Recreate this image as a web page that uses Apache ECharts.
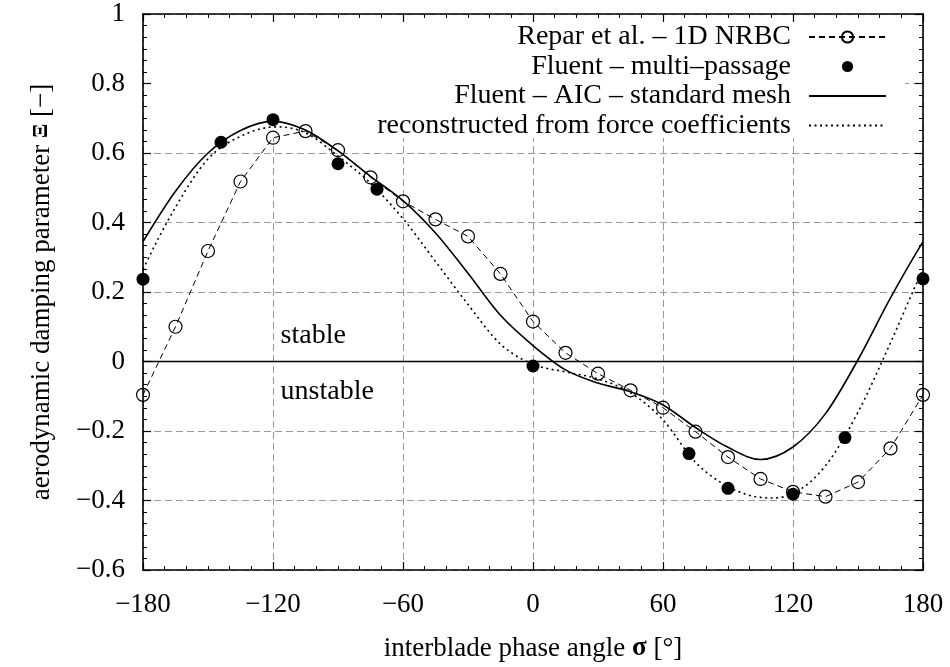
<!DOCTYPE html>
<html>
<head>
<meta charset="utf-8">
<script src="https://cdn.jsdelivr.net/npm/echarts@6/dist/echarts.min.js"></script>
<style>
  html, body { margin: 0; padding: 0; background: #fff; }
  #chart { width: 950px; height: 667px; }
</style>
</head>
<body>
<div id="chart"></div>
<script>
// Interblade phase angle samples (deg), every 15 deg
const phaseAngles = [-180, -165, -150, -135, -120, -105, -90, -75, -60, -45, -30, -15,
                     0, 15, 30, 45, 60, 75, 90, 105, 120, 135, 150, 165, 180];

// Repar et al. - 1D NRBC
const reparValues = [-0.096, 0.100, 0.318, 0.518, 0.644, 0.663, 0.608, 0.530, 0.461, 0.409, 0.360, 0.252,
                     0.115, 0.025, -0.035, -0.083, -0.133, -0.202, -0.275, -0.338, -0.375, -0.389, -0.347, -0.250, -0.096];

// Fluent - AIC - standard mesh
const aicValues = [0.345, 0.490, 0.600, 0.665, 0.691, 0.666, 0.606, 0.533, 0.463, 0.370, 0.254, 0.133,
                   0.046, -0.024, -0.062, -0.087, -0.125, -0.190, -0.247, -0.282, -0.246, -0.150, 0.005, 0.183, 0.345];

// Reconstructed from force coefficients
const reconValues = [0.265, 0.444, 0.583, 0.648, 0.675, 0.658, 0.591, 0.513, 0.411, 0.288, 0.164, 0.050,
                     -0.008, -0.030, -0.050, -0.090, -0.168, -0.290, -0.360, -0.391, -0.380, -0.300, -0.146, 0.054, 0.265];

// Fluent - multi-passage
const multiPassageAngles = [-180, -144, -120, -90, -72, 0, 72, 90, 120, 144, 180];
const multiPassageValues = [0.237, 0.631, 0.696, 0.569, 0.496, -0.013, -0.265, -0.365, -0.382, -0.219, 0.238];

// Region annotations
const regionNames = ['stable', 'unstable'];
const regionAnchors = [[-116.5, 0.075], [-116.5, -0.087]];

const seriesNames = [
  'Repar et al. \u2013 1D NRBC',
  'Fluent \u2013 multi\u2013passage',
  'Fluent \u2013 AIC \u2013 standard mesh',
  'reconstructed from force coefficients'
];

const FONT = 'Liberation Serif';
const MINUS = '\u2212';
const SOLID = { color: '#000', width: 1.6, type: 'solid' };
const DOTTED = { color: '#000', width: 1.6, type: [2, 3.5] };

const zip = (xs, ys) => xs.map((x, i) => [x, ys[i]]);

function fmtX(v) {
  return (v < 0 ? MINUS : '') + Math.abs(v);
}
function fmtY(v) {
  const r = Math.round(v * 10) / 10;
  if (r === 0) return '0';
  if (r === 1) return '1';
  return (r < 0 ? MINUS : '') + Math.abs(r).toFixed(1);
}

// Periodic Catmull-Rom curve through the samples, mapped with the grid's scales.
// The first and last samples are the same phase angle, so the end tangents wrap.
function periodicSplinePath(xs, ys, api) {
  const n = xs.length;
  const period = xs[n - 1] - xs[0];
  const pts = [api.coord([xs[n - 2] - period, ys[n - 2]])];
  for (let i = 0; i < n; i++) pts.push(api.coord([xs[i], ys[i]]));
  pts.push(api.coord([xs[1] + period, ys[1]]));
  let d = 'M' + pts[1][0] + ',' + pts[1][1];
  for (let i = 1; i < pts.length - 2; i++) {
    const p0 = pts[i - 1], p1 = pts[i], p2 = pts[i + 1], p3 = pts[i + 2];
    const c1x = p1[0] + (p2[0] - p0[0]) / 6, c1y = p1[1] + (p2[1] - p0[1]) / 6;
    const c2x = p2[0] - (p3[0] - p1[0]) / 6, c2y = p2[1] - (p3[1] - p1[1]) / 6;
    d += ' C' + c1x + ',' + c1y + ' ' + c2x + ',' + c2y + ' ' + p2[0] + ',' + p2[1];
  }
  return d;
}

function curveSeries(name, values, lineStyle) {
  return {
    name: name, type: 'custom', z: 2, silent: true,
    data: zip(phaseAngles, values),
    encode: { x: 0, y: 1 },
    renderItem: function (params, api) {
      if (params.dataIndex !== 0) return null;
      return {
        type: 'path',
        shape: { pathData: periodicSplinePath(phaseAngles, values, api) },
        style: {
          fill: 'none', stroke: lineStyle.color, lineWidth: lineStyle.width,
          lineDash: lineStyle.type === 'solid' ? null : lineStyle.type
        }
      };
    }
  };
}

// key entry for a curve (line icon); the curve itself is drawn by curveSeries
function keySeries(name, lineStyle) {
  return {
    name: name, type: 'line', data: [], symbol: 'none',
    lineStyle: lineStyle, itemStyle: { color: 'rgba(0,0,0,0)' }
  };
}

const axisLineStyle = { color: '#000', width: 1.6 };
const gridLine = { show: true, lineStyle: { color: '#9a9a9a', width: 1, type: [7, 4] } };

function xAxisDef(position, primary) {
  return {
    type: 'value', position: position, min: -180, max: 180, interval: 60,
    axisLine: { show: true, onZero: false, lineStyle: axisLineStyle },
    axisTick: { show: true, inside: true, length: 8, lineStyle: { color: '#000', width: 1.2 } },
    minorTick: { show: true, splitNumber: 6, length: 4, lineStyle: { color: '#000', width: 1 } },
    splitLine: primary ? gridLine : { show: false },
    axisLabel: primary ? { show: true, formatter: fmtX, fontFamily: FONT, fontSize: 27, color: '#000', margin: 21 } : { show: false },
    name: primary ? '{n|interblade phase angle }{b|\u03C3}{n| [\u00B0]}' : '',
    nameLocation: 'middle', nameGap: 65,
    nameTextStyle: {
      rich: {
        n: { fontFamily: FONT, fontSize: 27, color: '#000' },
        b: { fontFamily: FONT, fontSize: 27, fontWeight: 'bold', color: '#000' }
      }
    }
  };
}

function yAxisDef(position, primary) {
  return {
    type: 'value', position: position, min: -0.6, max: 1, interval: 0.2,
    axisLine: { show: true, onZero: false, lineStyle: axisLineStyle },
    axisTick: { show: true, inside: true, length: 8, lineStyle: { color: '#000', width: 1.2 } },
    minorTick: { show: true, splitNumber: 6, length: 4, lineStyle: { color: '#000', width: 1 } },
    splitLine: primary ? gridLine : { show: false },
    axisLabel: primary ? { show: true, formatter: fmtY, fontFamily: FONT, fontSize: 27, color: '#000', margin: 18, padding: [5, 0, 0, 0] } : { show: false },
    name: primary ? '{n|aerodynamic damping parameter }{b|\u039E}{n| [' + MINUS + ']}' : '',
    nameLocation: 'middle', nameGap: 88,
    nameTextStyle: {
      rich: {
        n: { fontFamily: FONT, fontSize: 27, color: '#000' },
        b: { fontFamily: FONT, fontSize: 21, fontWeight: 'bold', color: '#000' }
      }
    }
  };
}

const chart = echarts.init(document.getElementById('chart'), null, { renderer: 'canvas' });

const option = {
  animation: false,
  backgroundColor: '#fff',
  textStyle: { fontFamily: FONT, color: '#000' },
  grid: { left: 143, right: 27, top: 14, bottom: 92 },
  // opaque key box sits above the grid lines but below the curves
  graphic: [{
    type: 'rect', z: 1, silent: true,
    shape: { x: 151, y: 22, width: 754, height: 116 },
    style: { fill: '#fff' }
  }],
  legend: {
    orient: 'vertical', align: 'right',
    right: 63, top: 23, padding: 0,
    itemGap: 1.5, itemWidth: 77, itemHeight: 14,
    selectedMode: false,
    data: seriesNames,
    textStyle: { fontFamily: FONT, fontSize: 28, color: '#000', lineHeight: 28, padding: [0, 13, 0, 0] }
  },
  xAxis: [xAxisDef('bottom', true), xAxisDef('top', false)],
  yAxis: [yAxisDef('left', true), yAxisDef('right', false)],
  series: [
    {
      name: seriesNames[0], type: 'line', z: 3,
      data: zip(phaseAngles, reparValues),
      symbol: 'circle', symbolSize: 13,
      lineStyle: { color: '#000', width: 1, type: [6, 4] },
      itemStyle: { color: 'rgba(0,0,0,0)', borderColor: '#000', borderWidth: 1.2, opacity: 1 },
      markLine: {
        silent: true, symbol: 'none', label: { show: false },
        lineStyle: { color: '#000', width: 1.4, type: 'solid' },
        data: [{ yAxis: 0 }]
      }
    },
    {
      // points only: the connecting line is hidden
      name: seriesNames[1], type: 'line', z: 4,
      data: zip(multiPassageAngles, multiPassageValues),
      symbol: 'circle', symbolSize: 13,
      lineStyle: { color: '#000', width: 0, opacity: 0 },
      itemStyle: { color: '#000', opacity: 1 }
    },
    keySeries(seriesNames[2], SOLID),
    keySeries(seriesNames[3], DOTTED),
    curveSeries(seriesNames[2], aicValues, SOLID),
    curveSeries(seriesNames[3], reconValues, DOTTED),
    {
      name: 'regions', type: 'scatter', z: 5, silent: true,
      data: regionNames.map((n, i) => ({ name: n, value: regionAnchors[i] })),
      symbolSize: 0,
      itemStyle: { opacity: 1 },
      label: { show: true, position: 'right', distance: 0, formatter: '{b}', fontFamily: FONT, fontSize: 28, color: '#000' }
    }
  ]
};

chart.setOption(option);
</script>
</body>
</html>
